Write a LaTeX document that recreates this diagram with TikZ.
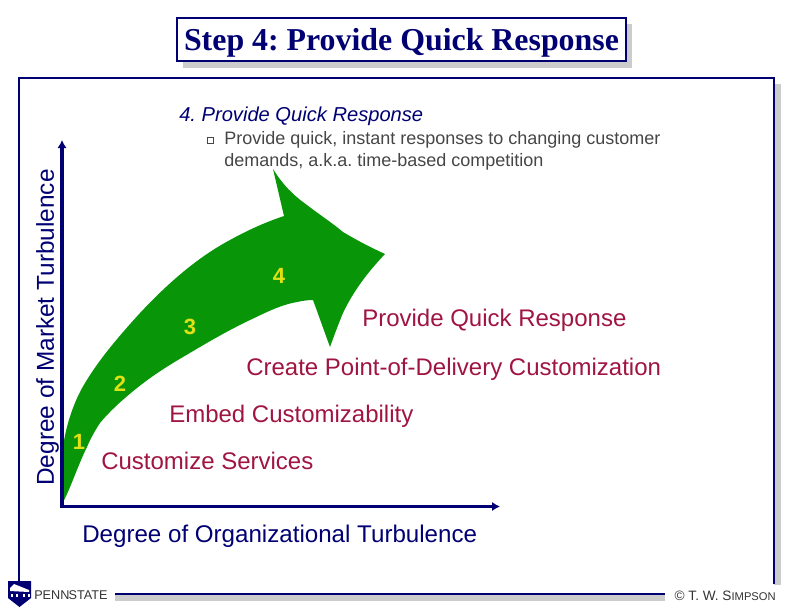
\documentclass[tikz,border=0pt]{standalone}
\usepackage{fontspec}
\setmainfont{Liberation Sans}
\newfontfamily\titlefont{Liberation Serif}
\usetikzlibrary{arrows.meta}
\definecolor{slide navy}{RGB}{0,0,115}
\definecolor{slide shadow}{RGB}{204,204,204}
\definecolor{slide green}{RGB}{8,150,8}
\definecolor{slide yellow}{RGB}{225,225,20}
\definecolor{slide red}{RGB}{160,20,65}
\definecolor{slide grey}{RGB}{70,70,70}
\tikzset{
  frameline/.style={draw=slide navy, line width=1.5pt},
  shadowline/.style={fill=slide shadow},
  axisline/.style={draw=slide navy, line width=2.8pt, -{Latex[length=6pt,width=7pt]}},
  steptext/.style={text=slide red, font=\fontsize{18}{20}\selectfont, anchor=west, inner sep=0pt},
  stepnum/.style={text=slide yellow, font=\fontsize{16.5}{18}\selectfont\bfseries, inner sep=0pt},
  axistext/.style={text=slide navy, font=\fontsize{18.1}{20}\selectfont, inner sep=0pt},
  smalltext/.style={text=slide grey, font=\fontsize{13.5}{16.5}\selectfont, anchor=west, inner sep=0pt, align=left}
}
\begin{document}
\frenchspacing
\begin{tikzpicture}[x=0.75pt,y=-0.75pt]
    \useasboundingbox (0,0) rectangle (792,612);
    % shadows first
    \fill[shadowline] (183,61) rectangle (632,68);
    \fill[shadowline] (626,24) rectangle (632,68);
    \fill[shadowline] (774,84) rectangle (781,585);
    \fill[shadowline] (115,595) rectangle (665,601);
    % frame
    \coordinate (frameA) at (19,581);
    \coordinate (frameB) at (19,78);
    \coordinate (frameC) at (774,78);
    \coordinate (frameD) at (774,584);
    \coordinate (footA) at (115,594);
    \coordinate (footB) at (665,594);
    \draw[frameline] (frameA) -- (frameB) -- (frameC) -- (frameD);
    \draw[frameline] (footA) -- (footB);
    % title
    \node[draw=slide navy, fill=white, line width=1.5pt, text=slide navy, minimum width=336.75pt, minimum height=32.25pt,
        inner sep=0pt, text height=18pt, text depth=2.2pt, font=\titlefont\fontsize{23.9}{28}\selectfont\bfseries] (title) at (401.5,39.5) {Step 4: Provide Quick Response};
    % big arrow
    \fill[slide green] (62,504) -- (63,447)
        .. controls (66,425) and (74,401) .. (85,383)
        .. controls (100,358) and (120,335) .. (140,313)
        .. controls (168,283) and (198,257) .. (230,240)
        .. controls (248,230) and (266,222) .. (284,216) -- (273,169)
        .. controls (283,185) and (293,195) .. (307,205)
        .. controls (320,215) and (335,225) .. (343,232)
        .. controls (358,241) and (372,248) .. (385,254)
        .. controls (368,272) and (354,290) .. (343,313)
        .. controls (338,325) and (334,336) .. (330,347) -- (313,300)
        .. controls (307,300) and (302,301) .. (297,302)
        .. controls (280,305) and (265,313) .. (250,320)
        .. controls (225,332) and (205,344) .. (183,357)
        .. controls (166,367) and (152,376) .. (137,388)
        .. controls (122,400) and (110,411) .. (100,423)
        .. controls (94,432) and (90,440) .. (87,447)
        .. controls (78,465) and (70,490) .. cycle;
    % axes
    \coordinate (origin) at (61,506.5);
    \coordinate (originb) at (62,507.5);
    \coordinate (yend) at (62,140);
    \coordinate (xend) at (500,506.5);
    \draw[axisline] (originb) -- (yend);
    \draw[axisline] (origin) -- (xend);
    \node[axistext, font=\fontsize{18.3}{20}\selectfont, rotate=90] (ylabel) at (47.5,327.5) {Degree of Market Turbulence};
    \node[axistext, anchor=west] (xlabel) at (82,536) {Degree of Organizational Turbulence};
    % heading
    \node[text=slide navy, font=\fontsize{15.1}{18}\selectfont\itshape, anchor=west, inner sep=0pt] (heading) at (179,116) {4. Provide Quick Response};
    \node[draw=slide grey, line width=0.4pt, minimum size=4.6pt, inner sep=0pt] (bullet) at (210.5,140.5) {};
    \node[smalltext] (bullettext) at (224,151) {Provide quick, instant responses to changing customer\\demands, a.k.a. time-based competition};
    % steps
    \node[stepnum] (n1) at (79,442) {1};
    \node[stepnum] (n2) at (120,384) {2};
    \node[stepnum] (n3) at (190,327) {3};
    \node[stepnum] (n4) at (279,276) {4};
    \node[steptext] (s1) at (101,461) {Customize Services};
    \node[steptext] (s2) at (169,416) {Embed Customizability};
    \node[steptext] (s3) at (246,369) {Create Point-of-Delivery Customization};
    \node[steptext] (s4) at (362,320) {Provide Quick Response};
    % footer
    \fill[slide navy] (8,581) -- (31,581) -- (31,598) -- (19.5,607) -- (8,598) -- cycle;
    \fill[white] (10,588) -- (14,584) -- (29,590) -- (29,592) -- (10,591) -- cycle;
    \foreach \x in {11,16,23,28} {\fill[white] (\x,594) rectangle +(1.5,2.5);}
    \node[font=\fontsize{9.5}{11}\selectfont, text=black!80, anchor=west, inner sep=0pt] (psu) at (34,595) {PENN\kern-0.6ptSTATE};
    \node[font=\fontsize{10.2}{11}\selectfont, text=black!80, anchor=east, inner sep=0pt] (credit) at (776,596) {\textcopyright{} T. W. S{\fontsize{8.4}{11}\selectfont IMPSON}};
\end{tikzpicture}
\end{document}
